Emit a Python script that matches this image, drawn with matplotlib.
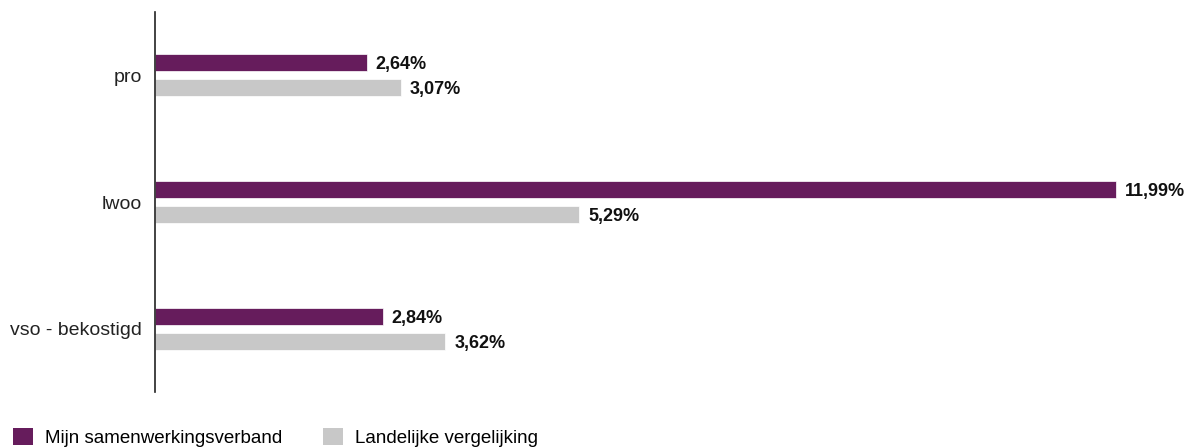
import matplotlib
matplotlib.use("Agg")
import matplotlib.pyplot as plt
from matplotlib.patches import Patch

categories = ["pro", "lwoo", "vso - bekostigd"]
mijn = [2.64, 11.99, 2.84]
landelijk = [3.07, 5.29, 3.62]
series_names = ["Mijn samenwerkingsverband", "Landelijke vergelijking"]
colors = ["#661C5C", "#C8C8C8"]

plt.rcParams['font.family'] = ['Liberation Sans', 'DejaVu Sans']

W, H = 1189, 448
fig = plt.figure(figsize=(W / 100, H / 100), dpi=100)
left, right, top, bottom = 155, 1180, 12, 392
ax = fig.add_axes([left / W, (H - bottom) / H, (right - left) / W, (bottom - top) / H])

px_per_unit = 961 / 11.99
ax.set_xlim(0, (right - left) / px_per_unit)
ax.set_ylim(2.5, -0.5)

unit_px = (bottom - top) / 3
bh = 17 / unit_px
off = 12.5 / unit_px

def fmt(v):
    return f"{v:.2f}".replace(".", ",") + "%"

for i, (a, b) in enumerate(zip(mijn, landelijk)):
    for val, dy, c in ((a, -off, colors[0]), (b, off, colors[1])):
        ax.barh(i + dy, val, height=bh, color=c, edgecolor="white", linewidth=0.5)
        ax.text(val + 9 / px_per_unit, i + dy, fmt(val), va="center_baseline", ha="left",
                fontsize=13, fontweight="bold", color="#111111")

ax.set_yticks(range(len(categories)))
ax.set_yticklabels(categories, fontsize=14, color="#222222")
ax.tick_params(axis="y", length=0, pad=9.5)
ax.set_xticks([])
for s in ["top", "right", "bottom"]:
    ax.spines[s].set_visible(False)
ax.spines["left"].set_color("#222222")
ax.spines["left"].set_linewidth(1.2)

handles = [Patch(facecolor=colors[0]), Patch(facecolor=colors[1])]
fig.legend(handles, series_names, loc="lower left", bbox_to_anchor=(13 / W, 1 / H),
           ncol=2, frameon=False, fontsize=13.5, handlelength=1.05, handleheight=1.05,
           handletextpad=0.64, columnspacing=2.2, borderpad=0, borderaxespad=0)

fig.savefig("out.png", dpi=100)
